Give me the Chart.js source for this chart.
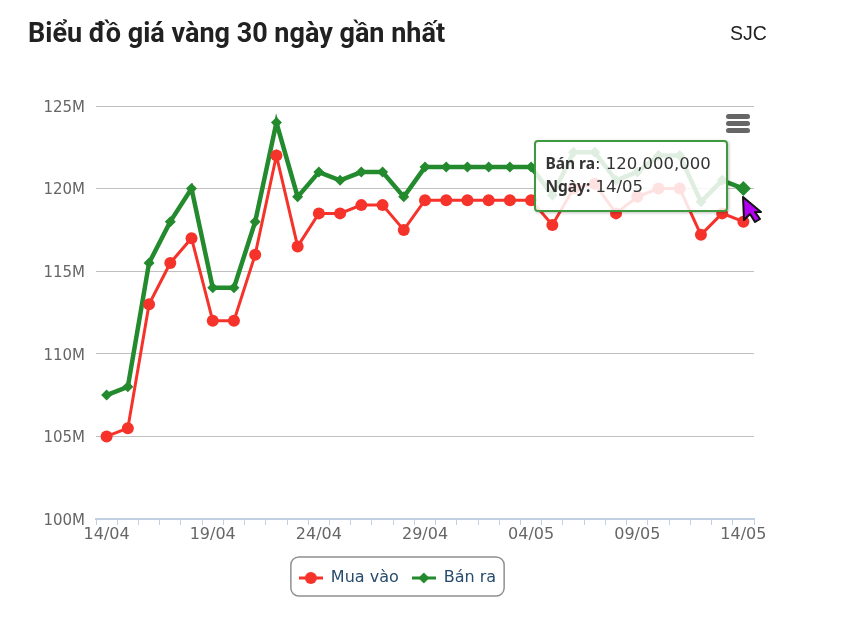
<!DOCTYPE html>
<html lang="vi">
<head>
<meta charset="utf-8">
<title>Biểu đồ giá vàng</title>
<script src="https://cdn.jsdelivr.net/npm/chart.js@4"></script>
<style>
  body { margin: 0; background: #fff; }
  #wrap { position: relative; width: 842px; height: 622px; overflow: hidden; }
  #heading { position: absolute; left: 28px; top: 17px; margin: 0; font: 700 27px Roboto, sans-serif; color: #212121; white-space: nowrap; }
  #brand { position: absolute; left: 730px; top: 22px; font: 400 19.5px "Liberation Sans", sans-serif; color: #212121; }
  #menu { position: absolute; left: 726px; top: 114px; }
  #cursor { position: absolute; left: 741px; top: 195px; }
  #tip {
    position: absolute; box-sizing: border-box; width: 194px; height: 72px; padding: 10px 0 0 9px;
    background: rgba(255,255,255,.86); border: 2px solid #3f9a3f; border-radius: 4px;
    box-shadow: 1px 1px 3px rgba(0,0,0,.25);
    font: 16.5px/23px "DejaVu Sans", sans-serif; color: #333; white-space: nowrap;
  }
  #tip b { font: 700 15.5px/23px "Noto Sans", sans-serif; }
</style>
</head>
<body>
<div id="wrap">
  <h1 id="heading">Biểu đồ giá vàng 30 ngày gần nhất</h1>
  <div id="brand">SJC</div>
  <canvas id="goldChart" width="842" height="622"></canvas>
  <svg id="menu" width="24" height="20"><g fill="#666"><rect y="0" width="24" height="5" rx="2.5"/><rect y="7" width="24" height="5" rx="2.5"/><rect y="14" width="24" height="5" rx="2.5"/></g></svg>
  <div id="tip"></div>
  <svg id="cursor" width="24" height="30"><path d="M2 2 L3 25 L9 19 L14 27 L19 24 L14 17 L20 17 Z" fill="#b400f0" stroke="#111" stroke-width="2" stroke-linejoin="round"/></svg>
</div>
<script>
const days = ['14/04','15/04','16/04','17/04','18/04','19/04','20/04','21/04','22/04','23/04','24/04',
  '25/04','26/04','27/04','28/04','29/04','30/04','01/05','02/05','03/05','04/05',
  '05/05','06/05','07/05','08/05','09/05','10/05','11/05','12/05','13/05','14/05'];
const tickLabels = ['14/04','19/04','24/04','29/04','04/05','09/05','14/05'];

const muaVao = [105000000,105500000,113000000,115500000,117000000,112000000,112000000,116000000,122000000,116500000,118500000,
  118500000,119000000,119000000,117500000,119300000,119300000,119300000,119300000,119300000,119300000,
  117800000,120000000,120300000,118500000,119500000,120000000,120000000,117200000,118500000,118000000];
const banRa = [107500000,108000000,115500000,118000000,120000000,114000000,114000000,118000000,124000000,119500000,121000000,
  120500000,121000000,121000000,119500000,121300000,121300000,121300000,121300000,121300000,121300000,
  119600000,122200000,122200000,120500000,121000000,122000000,122000000,119200000,120500000,120000000];

const RED = '#f5332a';
const GREEN = '#238a2e';

// small line + marker sample for the legend
function legendSwatch(color, style) {
  const c = document.createElement('canvas');
  c.width = 24; c.height = 14;
  const g = c.getContext('2d');
  g.strokeStyle = color; g.fillStyle = color; g.lineWidth = 3;
  g.beginPath(); g.moveTo(0, 7); g.lineTo(24, 7); g.stroke();
  g.beginPath();
  if (style === 'circle') g.arc(12, 7, 6, 0, Math.PI * 2);
  else { g.moveTo(12, 1.5); g.lineTo(17.5, 7); g.lineTo(12, 12.5); g.lineTo(6.5, 7); g.closePath(); }
  g.fill();
  return c;
}

const legendBorder = {
  id: 'legendBorder',
  afterDraw(chart) {
    const l = chart.legend, ctx = chart.ctx;
    const w = l.lineWidths[0] + 3, cx = (l.left + l.right) / 2;
    ctx.save();
    ctx.strokeStyle = '#909090'; ctx.lineWidth = 1.5;
    ctx.beginPath();
    ctx.roundRect(cx - w / 2, l.top, w, l.bottom - l.top, 8);
    ctx.stroke();
    ctx.restore();
  }
};

function showTip({ chart, tooltip }) {
  const el = document.getElementById('tip');
  const p = tooltip.dataPoints && tooltip.dataPoints[0];
  if (!p) return;
  el.innerHTML = '<b>' + p.dataset.label + '</b>: ' + p.formattedValue + '<br><b>Ngày:</b> ' + p.label;
  el.style.left = (p.element.x - 209) + 'px';
  el.style.top = (p.element.y - 49) + 'px';
}

const chart = new Chart(document.getElementById('goldChart'), {
  type: 'line',
  data: {
    labels: days,
    datasets: [
      { label: 'Mua vào', data: muaVao, borderColor: RED, backgroundColor: RED, borderWidth: 3,
        pointStyle: 'circle', pointRadius: 6, pointHoverRadius: 6, pointBorderWidth: 0, pointHoverBorderWidth: 0, tension: 0 },
      { label: 'Bán ra', data: banRa, borderColor: GREEN, backgroundColor: GREEN, borderWidth: 4.5,
        pointStyle: 'rectRot', pointRadius: 5.5, pointHoverRadius: 7.5, pointBorderWidth: 0, pointHoverBorderWidth: 0,
        pointHoverBackgroundColor: GREEN, tension: 0 }
    ]
  },
  options: {
    responsive: false,
    animation: false,
    events: [],
    layout: { padding: { left: 41, right: 88, top: 106, bottom: 26 } },
    scales: {
      x: {
        offset: true,
        afterFit(s) { s.height = 38; },
        grid: { offset: true, drawOnChartArea: false, color: '#c0d0e0', tickColor: '#c0d0e0', tickLength: 6 },
        border: { color: '#c0d0e0', width: 2 },
        ticks: {
          autoSkip: false, maxRotation: 0, minRotation: 0, padding: 0, color: '#666',
          font: { family: '"DejaVu Sans", sans-serif', size: 16 },
          callback(v) { const t = this.getLabelForValue(v); return tickLabels.includes(t) ? t : ' '; }
        }
      },
      y: {
        min: 100000000, max: 125000000,
        afterFit(s) { s.width = 55; },
        grid: { color: '#c0c0c0', drawTicks: false },
        border: { display: false },
        ticks: { stepSize: 5000000, padding: 11, labelOffset: 2, color: '#666',
          font: { family: '"DejaVu Sans", sans-serif', size: 15 },
          callback(v) { return (v / 1000000) + 'M'; } }
      }
    },
    plugins: {
      title: { display: false },
      legend: {
        position: 'bottom',
        labels: {
          usePointStyle: true, pointStyleWidth: 24, padding: 13, color: '#274b6d',
          font: { family: '"DejaVu Sans", sans-serif', size: 16 },
          generateLabels(c) {
            return c.data.datasets.map((d, i) => ({
              text: d.label, datasetIndex: i, fontColor: '#274b6d', lineWidth: 0,
              pointStyle: legendSwatch(d.borderColor, d.pointStyle)
            }));
          }
        }
      },
      tooltip: { enabled: false, external: showTip }
    }
  },
  plugins: [legendBorder]
});

const hovered = [{ datasetIndex: 1, index: days.length - 1 }];
chart.setActiveElements(hovered);
chart.tooltip.setActiveElements(hovered, { x: 0, y: 0 });
chart.render();
</script>
</body>
</html>
